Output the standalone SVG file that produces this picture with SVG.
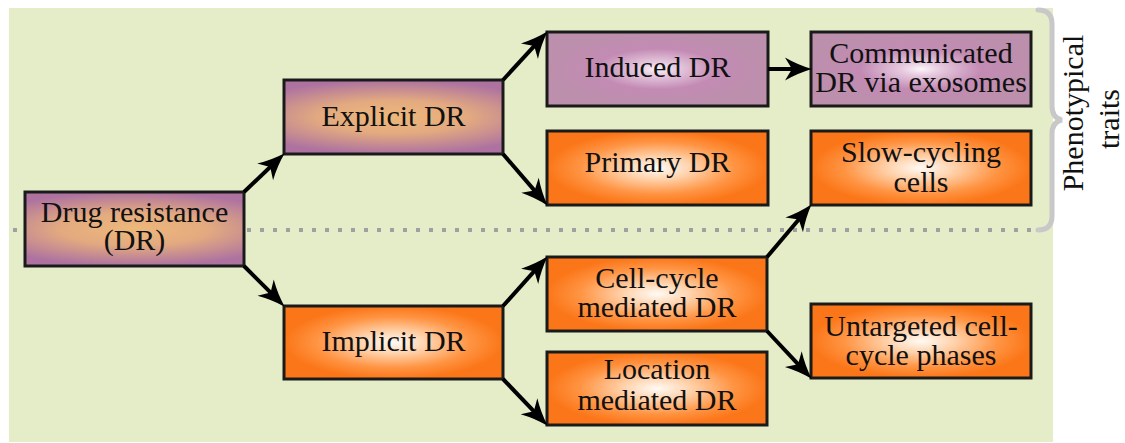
<svg xmlns="http://www.w3.org/2000/svg" width="1125" height="443" viewBox="0 0 1125 443">
<defs>
<radialGradient id="gPurple" cx="0.5" cy="0.5" r="0.5" gradientTransform="translate(0.5,0.5) scale(1.5,1) translate(-0.5,-0.5)">
<stop offset="0" stop-color="#eeb87a"/>
<stop offset="0.45" stop-color="#e3aa80"/>
<stop offset="1" stop-color="#ad72a0"/>
</radialGradient>
<radialGradient id="gMauve" cx="0.5" cy="0.5" r="0.5">
<stop offset="0" stop-color="#fbf5f9"/>
<stop offset="0.18" stop-color="#e6c9de"/>
<stop offset="0.55" stop-color="#c38bb4"/>
<stop offset="1" stop-color="#bc8fac"/>
</radialGradient>
<radialGradient id="gOrange" cx="0.5" cy="0.5" r="0.5">
<stop offset="0" stop-color="#fffaf5"/>
<stop offset="0.3" stop-color="#ffd3ad"/>
<stop offset="0.7" stop-color="#ff9443"/>
<stop offset="1" stop-color="#fb7618"/>
</radialGradient>
<marker id="arr" markerUnits="userSpaceOnUse" viewBox="-15 -15 40 30" markerWidth="40" markerHeight="30" refX="0" refY="0" orient="auto" overflow="visible">
<path d="M16,0 Q2,-4 -11,-11.5 L-4,0 L-11,11.5 Q2,4 16,0 Z" fill="#000"/>
</marker>
</defs>
<style>
.box{stroke:#1a1a1a;stroke-width:3}
.p{fill:url(#gPurple)}
.m{fill:url(#gMauve)}
.o{fill:url(#gOrange)}
text{font-family:"Liberation Serif","Times New Roman",serif;font-size:30px;fill:#111;text-anchor:middle}
.con line{stroke:#000;stroke-width:4;marker-end:url(#arr)}
</style>
<rect x="9" y="8" width="1044" height="434" fill="#e5edc8"/>
<line x1="13" y1="230" x2="1037" y2="230" stroke="#a0a0a0" stroke-width="4" stroke-dasharray="4 9"/>
<path d="M1038,10 Q1052,10 1052,24 L1052,106 Q1052,118 1062,120 Q1052,122 1052,134 L1052,216 Q1052,230 1038,230" fill="none" stroke="#c8c8c8" stroke-width="5" stroke-linecap="round"/>
<g id="braceLabel">
<text transform="translate(1083,113) rotate(-90)">Phenotypical</text>
<text transform="translate(1119,119) rotate(-90)">traits</text>
</g>
<g id="n-dr"><rect class="box p" x="25" y="192" width="219" height="74"/><text x="134.5" y="222">Drug resistance</text><text x="134.5" y="250">(DR)</text></g>
<g id="n-explicit"><rect class="box p" x="284" y="80" width="219" height="74"/><text x="393.5" y="126">Explicit DR</text></g>
<g id="n-implicit"><rect class="box o" x="284" y="306" width="219" height="73"/><text x="393.5" y="351">Implicit DR</text></g>
<g id="n-induced"><rect class="box m" x="547" y="32" width="221" height="74"/><text x="657.5" y="77">Induced DR</text></g>
<g id="n-primary"><rect class="box o" x="547" y="131" width="221" height="74"/><text x="657.5" y="172">Primary DR</text></g>
<g id="n-cellcycle"><rect class="box o" x="547" y="257" width="220" height="74"/><text x="657" y="288">Cell-cycle</text><text x="657" y="317">mediated DR</text></g>
<g id="n-location"><rect class="box o" x="547" y="352" width="220" height="73"/><text x="657" y="379">Location</text><text x="657" y="410">mediated DR</text></g>
<g id="n-communicated"><rect class="box m" x="811" y="32" width="220" height="74"/><text x="921" y="63">Communicated</text><text x="921" y="92">DR via exosomes</text></g>
<g id="n-slow"><rect class="box o" x="811" y="131" width="220" height="74"/><text x="921" y="162">Slow-cycling</text><text x="921" y="192">cells</text></g>
<g id="n-untargeted"><rect class="box o" x="811" y="304" width="220" height="74"/><text x="921" y="336">Untargeted cell-</text><text x="921" y="365">cycle phases</text></g>
<g id="connectors" class="con">
<line x1="244" y1="192" x2="273.1" y2="164.3"/>
<line x1="244" y1="266" x2="273.4" y2="295.4"/>
<line x1="503" y1="80" x2="536.9" y2="43.1"/>
<line x1="503" y1="154" x2="537.2" y2="193.6"/>
<line x1="503" y1="306" x2="537.0" y2="268.2"/>
<line x1="503" y1="379" x2="536.6" y2="414.2"/>
<line x1="768" y1="69" x2="796" y2="69"/>
<line x1="767" y1="257" x2="801.3" y2="216.5"/>
<line x1="767" y1="331" x2="800.8" y2="367.1"/>
</g>
</svg>
